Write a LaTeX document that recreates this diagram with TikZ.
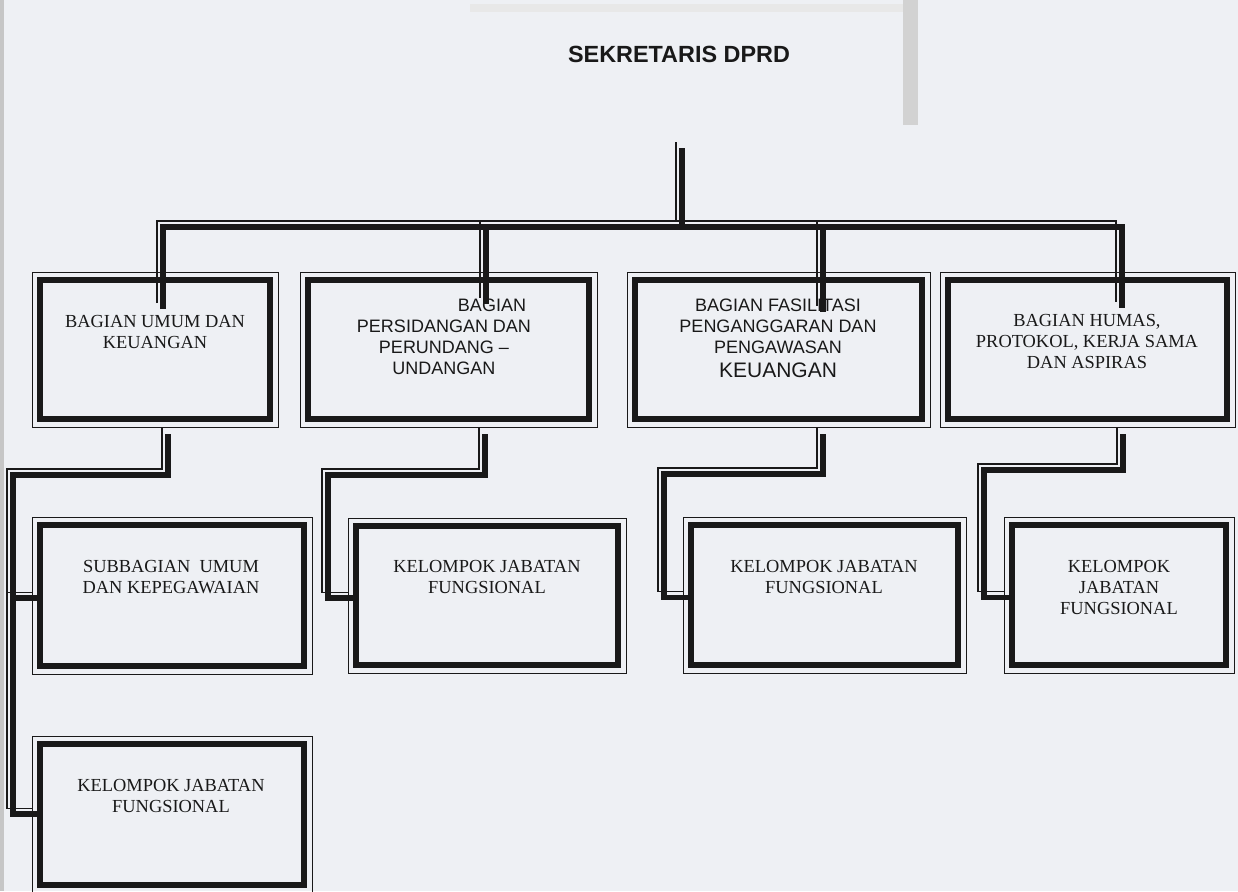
\documentclass[tikz,border=0pt]{standalone}
\usepackage{fontspec}
\setmainfont{Liberation Serif}
\setsansfont{Liberation Sans}
\usetikzlibrary{calc}

\definecolor{paper}{RGB}{238,240,244}
\definecolor{ink}{RGB}{25,25,25}

\tikzset{
  unitbox/.style={draw=ink, line width=0.6pt, inner sep=0pt, anchor=north west,
    path picture={\draw[ink, line width=3pt]
      ([shift={(3.7pt,-3.9pt)}]path picture bounding box.north west) rectangle
      ([shift={(-4.2pt,4.2pt)}]path picture bounding box.south east);}},
  link/.style={draw=ink, line width=0.6pt,
    preaction={draw=ink, line width=2.8pt, transform canvas={shift={(3pt,-3pt)}}}},
  lbl/.style={inner sep=0pt, align=center, text=ink, anchor=base,
    font=\fontsize{9.2}{10.5}\selectfont},
  lbls/.style={lbl, font=\sffamily\fontsize{9}{10.5}\selectfont}
}

\begin{document}
\begin{tikzpicture}[x=0.5pt, y=-0.5pt]
  \useasboundingbox (0,0) rectangle (1238,891);
  \fill[paper] (0,0) rectangle (1238,891);
  % marks of the scan
  \fill[gray!35] (903,0) rectangle (918,125);
  \fill[gray!18] (470,4) rectangle (903,12);
  \fill[gray!45] (0,0) rectangle (4,891);

  \node[lbls, font=\sffamily\bfseries\fontsize{11.7}{13}\selectfont] (sek) at (679,62) {SEKRETARIS DPRD};

  % first row
  \node[unitbox, minimum width=123pt, minimum height=77.5pt] (bag1) at (32,272) {};
  \node[unitbox, minimum width=148.5pt, minimum height=77.5pt] (bag2) at (300,272) {};
  \node[unitbox, minimum width=151.5pt, minimum height=77.5pt] (bag3) at (627,272) {};
  \node[unitbox, minimum width=147.5pt, minimum height=77.5pt] (bag4) at (940,272) {};
  % second row
  \node[unitbox, minimum width=140pt, minimum height=78.5pt] (sub1) at (32,517) {};
  \node[unitbox, minimum width=139pt, minimum height=77.5pt] (kjf2) at (348,518) {};
  \node[unitbox, minimum width=141.5pt, minimum height=78pt] (kjf3) at (683,517) {};
  \node[unitbox, minimum width=115pt, minimum height=78pt] (kjf4) at (1004,517) {};
  \node[unitbox, minimum width=140pt, minimum height=78.5pt] (kjf1) at (32,736) {};

  % texts, placed on the baseline of their last line
  \node[lbl] (t1) at (155,348) {BAGIAN UMUM DAN\\KEUANGAN};
  \node[lbls] (t2) at (444,374) {\hspace*{48pt}BAGIAN\\PERSIDANGAN DAN\\PERUNDANG --\\UNDANGAN};
  \node[lbls] (t3) at (778,377) {BAGIAN FASILITASI\\PENGANGGARAN DAN\\PENGAWASAN\\[1.5pt]{\fontsize{10.5}{12}\selectfont KEUANGAN}};
  \node[lbl] (t4) at (1087,368) {BAGIAN HUMAS,\\PROTOKOL, KERJA SAMA\\DAN ASPIRAS};
  \node[lbl] (t5) at (171,593) {SUBBAGIAN\ \ UMUM\\DAN KEPEGAWAIAN};
  \node[lbl] (t6) at (487,593) {KELOMPOK JABATAN\\FUNGSIONAL};
  \node[lbl] (t7) at (824,593) {KELOMPOK JABATAN\\FUNGSIONAL};
  \node[lbl] (t8) at (1119,614) {KELOMPOK\\JABATAN\\FUNGSIONAL};
  \node[lbl] (t9) at (171,812) {KELOMPOK JABATAN\\FUNGSIONAL};

  % lines from the top
  \coordinate (top) at (676,142);
  \coordinate (bus) at (676,221);
  \coordinate (e1) at (157,303);
  \coordinate (e2) at (480,298);
  \coordinate (e3) at (817,306);
  \coordinate (e4) at (1116,302);
  \draw[link] (top) -- (bus);
  \draw[link] (e1) |- (bus -| e4) -- (e4);
  \draw[link] (bus -| e2) -- (e2);
  \draw[link] (bus -| e3) -- (e3);

  % lines below
  \coordinate (j1) at (162,469);
  \coordinate (d1) at (7,469);
  \coordinate (s1) at ([yshift=2pt]sub1.west);
  \coordinate (s0) at ([yshift=3.5pt]kjf1.west);
  \draw[link] (bag1.south -| j1) -- (j1) -- (d1) |- (s0);
  \draw[link] (s1 -| d1) -- (s1);

  \coordinate (j2) at (479,469);
  \coordinate (d2) at (322,469);
  \coordinate (s2) at ([yshift=2pt]kjf2.west);
  \draw[link] (bag2.south -| j2) -- (j2) -- (d2) |- (s2);

  \coordinate (j3) at (817,468);
  \coordinate (d3) at (658,468);
  \coordinate (s3) at ([yshift=2pt]kjf3.west);
  \draw[link] (bag3.south -| j3) -- (j3) -- (d3) |- (s3);

  \coordinate (j4) at (1117,464);
  \coordinate (d4) at (978,464);
  \coordinate (s4) at ([yshift=2pt]kjf4.west);
  \draw[link] (bag4.south -| j4) -- (j4) -- (d4) |- (s4);
\end{tikzpicture}
\end{document}
